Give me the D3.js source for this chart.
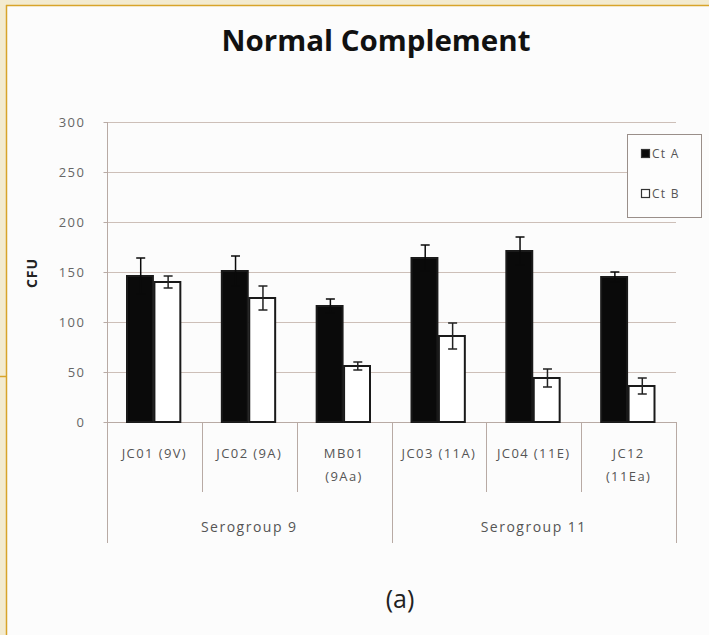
<!DOCTYPE html>
<html>
<head>
<meta charset="utf-8">
<script src="https://cdn.jsdelivr.net/npm/d3@7"></script>
<style>
  body { margin: 0; background: #fcfcfc; }
  svg { display: block; }
</style>
</head>
<body>
<div id="vis"></div>
<script>
const FRAME_WIDTH = 709;
const FRAME_HEIGHT = 635;
const PLOT = {left: 107, right: 676, top: 122, bottom: 422};

// data
const categories = ["JC01 (9V)", "JC02 (9A)", "MB01 (9Aa)", "JC03 (11A)", "JC04 (11E)", "JC12 (11Ea)"];
const categoryLines = [["JC01 (9V)"], ["JC02 (9A)"], ["MB01", "(9Aa)"], ["JC03 (11A)"], ["JC04 (11E)"], ["JC12", "(11Ea)"]];
const groups = ["Serogroup 9", "Serogroup 11"];
const groupSizes = [3, 3];
const series = ["Ct A", "Ct B"];
const ctA = [146, 151, 116, 164, 171, 145];
const ctAErr = [18, 15, 7, 13, 14, 5];
const ctB = [140, 124, 56, 86, 44, 36];
const ctBErr = [6, 12, 4, 13, 9, 8];
const yTicks = [0, 50, 100, 150, 200, 250, 300];

const FRAME = d3.select("#vis")
  .append("svg")
    .attr("width", FRAME_WIDTH)
    .attr("height", FRAME_HEIGHT);

FRAME.append("rect")
  .attr("width", FRAME_WIDTH).attr("height", FRAME_HEIGHT)
  .attr("fill", "#fcfcfc");

// beige page border
FRAME.append("rect").attr("x", 0).attr("y", 0).attr("width", FRAME_WIDTH).attr("height", 5).attr("fill", "#f3ebd0");
FRAME.append("rect").attr("x", 0).attr("y", 0).attr("width", 6).attr("height", FRAME_HEIGHT).attr("fill", "#f3ebd0");
FRAME.append("line").attr("x1", 6).attr("x2", FRAME_WIDTH).attr("y1", 5.5).attr("y2", 5.5)
  .attr("stroke", "#d8a42a").attr("stroke-width", 1.5);
FRAME.append("line").attr("x1", 6.5).attr("x2", 6.5).attr("y1", 5).attr("y2", FRAME_HEIGHT)
  .attr("stroke", "#d8a42a").attr("stroke-width", 1.5);
FRAME.append("line").attr("x1", 0).attr("x2", 6).attr("y1", 376.5).attr("y2", 376.5)
  .attr("stroke", "#d8a42a").attr("stroke-width", 1.5);

const Y_SCALE = d3.scaleLinear()
  .domain([0, 300])
  .range([PLOT.bottom, PLOT.top]);

const X_SCALE = d3.scaleBand()
  .domain(categories)
  .range([PLOT.left, PLOT.right]);

const bw = X_SCALE.bandwidth();
const X_INNER = d3.scaleBand()
  .domain(series)
  .range([20, bw - 20]);

// gridlines
FRAME.append("g")
  .selectAll("line")
  .data(yTicks.filter(d => d > 0))
  .enter()
  .append("line")
    .attr("x1", PLOT.left)
    .attr("x2", PLOT.right)
    .attr("y1", d => Math.round(Y_SCALE(d)) + 0.5)
    .attr("y2", d => Math.round(Y_SCALE(d)) + 0.5)
    .attr("stroke", "#cdbfb8")
    .attr("stroke-width", 1);

// y axis
const yAxis = FRAME.append("g")
  .attr("transform", "translate(" + (PLOT.left + 0.5) + ",0)")
  .call(d3.axisLeft(Y_SCALE).tickValues(yTicks).tickSize(4).tickPadding(18))
  .attr("font-family", "Open Sans")
  .attr("font-size", "13px");
yAxis.select(".domain").attr("stroke", "#b8aaa4").attr("d", "M0," + PLOT.top + "V" + 543);
yAxis.selectAll(".tick line").attr("stroke", "#b8aaa4");
yAxis.selectAll(".tick text").attr("fill", "#666").attr("dy", "0.35em")
  .style("letter-spacing", "1.5px");

// y title
FRAME.append("text")
  .attr("transform", "translate(37,273) rotate(-90)")
  .attr("text-anchor", "middle")
  .attr("font-family", "Open Sans")
  .attr("font-weight", "bold")
  .attr("font-size", "14px")
  .attr("fill", "#222")
  .style("letter-spacing", "1px")
  .text("CFU");

// baseline
FRAME.append("line")
  .attr("x1", PLOT.left).attr("x2", PLOT.right)
  .attr("y1", PLOT.bottom + 0.5).attr("y2", PLOT.bottom + 0.5)
  .attr("stroke", "#b8aaa4");

// category separators
const groupEnds = d3.cumsum(groupSizes);
FRAME.append("g")
  .selectAll("line")
  .data(d3.range(categories.length + 1))
  .enter()
  .append("line")
    .attr("x1", i => Math.round(PLOT.left + i * bw) + 0.5)
    .attr("x2", i => Math.round(PLOT.left + i * bw) + 0.5)
    .attr("y1", PLOT.bottom)
    .attr("y2", i => (i === 0 || groupEnds.includes(i)) ? 543 : 492)
    .attr("stroke", "#b8aaa4");

// category labels
const catLabels = FRAME.append("g")
  .selectAll("text")
  .data(categories)
  .enter()
  .append("text")
    .attr("x", d => X_SCALE(d) + bw / 2)
    .attr("y", 458)
    .attr("text-anchor", "middle")
    .attr("font-family", "Open Sans")
    .attr("font-size", "13px")
    .attr("fill", "#555")
    .style("letter-spacing", "1.4px");
catLabels.each(function(d, i) {
  const lines = categoryLines[i];
  d3.select(this).selectAll("tspan")
    .data(lines)
    .enter()
    .append("tspan")
      .attr("x", X_SCALE(d) + bw / 2)
      .attr("dy", (l, j) => j === 0 ? 0 : 23)
      .text(l => l);
});

// group labels
let start = 0;
groups.forEach((g, i) => {
  const x0 = X_SCALE(categories[start]);
  const x1 = X_SCALE(categories[start + groupSizes[i] - 1]) + bw;
  FRAME.append("text")
    .attr("x", (x0 + x1) / 2)
    .attr("y", 532)
    .attr("text-anchor", "middle")
    .attr("font-family", "Open Sans")
    .attr("font-size", "14px")
    .attr("fill", "#555")
    .style("letter-spacing", "1.5px")
    .text(g);
  start += groupSizes[i];
});

// bars
const barData = [];
categories.forEach((c, i) => {
  barData.push({cat: c, s: "Ct A", v: ctA[i], e: ctAErr[i]});
  barData.push({cat: c, s: "Ct B", v: ctB[i], e: ctBErr[i]});
});

FRAME.append("g")
  .selectAll("rect")
  .data(barData)
  .enter()
  .append("rect")
    .attr("x", d => X_SCALE(d.cat) + X_INNER(d.s))
    .attr("y", d => Y_SCALE(d.v))
    .attr("width", X_INNER.bandwidth() - 1.5)
    .attr("height", d => PLOT.bottom - Y_SCALE(d.v))
    .attr("fill", d => d.s === "Ct A" ? "#0a0a0a" : "#ffffff")
    .attr("stroke", "#1a1a1a")
    .attr("stroke-width", 2);

// error bars
const err = FRAME.append("g")
  .selectAll("g")
  .data(barData)
  .enter()
  .append("g")
    .attr("stroke", d => d.s === "Ct A" ? "#0a0a0a" : "#222")
    .attr("stroke-width", 1.5);
const cx = d => X_SCALE(d.cat) + X_INNER(d.s) + X_INNER.bandwidth() / 2;
err.append("line")
  .attr("x1", cx).attr("x2", cx)
  .attr("y1", d => Y_SCALE(d.v + d.e)).attr("y2", d => Y_SCALE(d.v - d.e));
err.append("line")
  .attr("x1", d => cx(d) - 4.5).attr("x2", d => cx(d) + 4.5)
  .attr("y1", d => Y_SCALE(d.v + d.e)).attr("y2", d => Y_SCALE(d.v + d.e));
err.append("line")
  .attr("x1", d => cx(d) - 4.5).attr("x2", d => cx(d) + 4.5)
  .attr("y1", d => Y_SCALE(d.v - d.e)).attr("y2", d => Y_SCALE(d.v - d.e));

// legend
const LEG = FRAME.append("g").attr("transform", "translate(627,134)");
LEG.append("rect")
  .attr("x", 0.5).attr("y", 0.5)
  .attr("width", 74).attr("height", 83)
  .attr("fill", "#fdfdfd")
  .attr("stroke", "#9a8f8a");
series.forEach((s, i) => {
  const yy = 20 + i * 40;
  LEG.append("rect")
    .attr("x", 14.5).attr("y", yy - 4.5)
    .attr("width", 8).attr("height", 8)
    .attr("fill", i === 0 ? "#0a0a0a" : "#fff")
    .attr("stroke", "#333")
    .attr("stroke-width", 1.2);
  LEG.append("text")
    .attr("x", 25).attr("y", yy)
    .attr("dy", "0.35em")
    .attr("font-family", "Open Sans")
    .attr("font-size", "12px")
    .attr("fill", "#555")
    .style("letter-spacing", "1.3px")
    .text(s);
});

// title
FRAME.append("text")
  .attr("x", 376)
  .attr("y", 51)
  .attr("text-anchor", "middle")
  .attr("font-family", "Open Sans")
  .attr("font-weight", "bold")
  .attr("font-size", "28px")
  .attr("fill", "#111")
  .attr("textLength", 309)
  .attr("lengthAdjust", "spacingAndGlyphs")
  .text("Normal Complement");

// panel label
FRAME.append("text")
  .attr("x", 400)
  .attr("y", 608)
  .attr("text-anchor", "middle")
  .attr("font-family", "Open Sans")
  .attr("font-size", "25px")
  .attr("fill", "#222")
  .text("(a)");
</script>
</body>
</html>
